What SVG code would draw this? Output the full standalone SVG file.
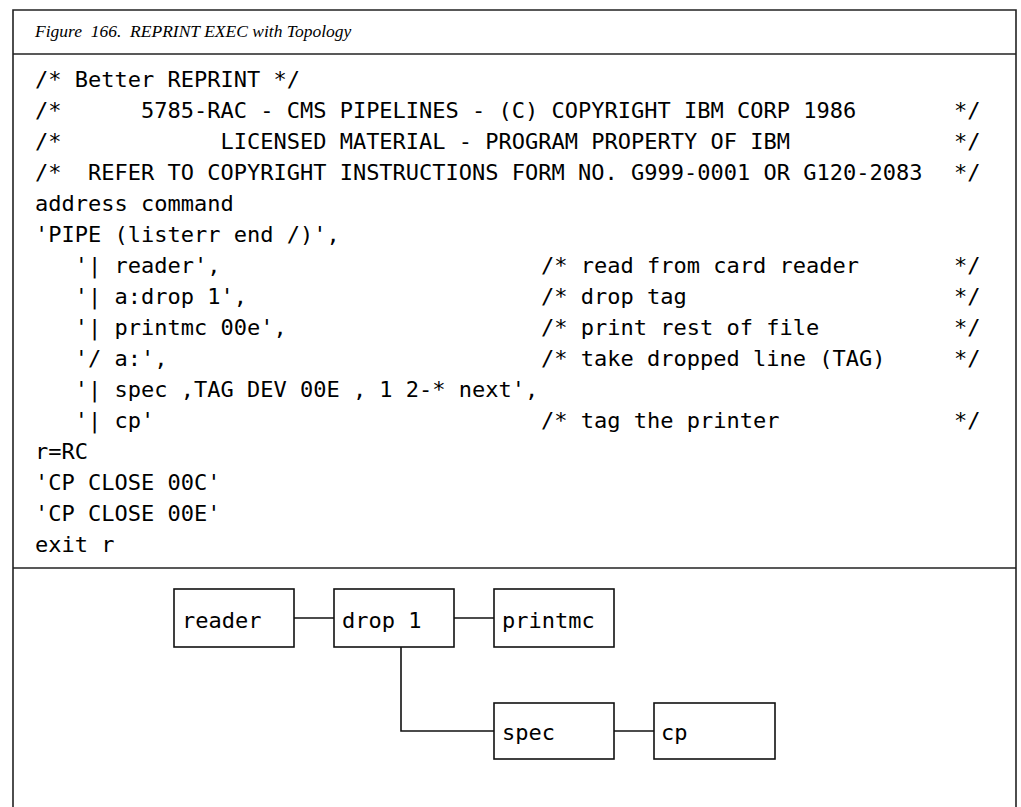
<svg xmlns="http://www.w3.org/2000/svg" width="1021" height="807" viewBox="0 0 1021 807">
<style>
.frame{fill:none;stroke:#222;stroke-width:1.6}
.code{font-family:"DejaVu Sans Mono","Liberation Mono",monospace;font-size:22px;fill:#000}
.title{font-family:"Liberation Serif","Times New Roman",serif;font-style:italic;font-size:17.5px;fill:#000}
.box{fill:#fff;stroke:#111;stroke-width:1.6}
.lbl{font-family:"DejaVu Sans Mono","Liberation Mono",monospace;font-size:22px;fill:#000}
.conn{fill:none;stroke:#111;stroke-width:1.6}
</style>
<rect width="1021" height="807" fill="#fff"/>
<g id="frame">
<path class="frame" d="M13,807 V10 H1016 V807"/>
<line class="frame" x1="13" y1="54" x2="1016" y2="54"/>
<line class="frame" x1="13" y1="568" x2="1016" y2="568"/>
</g>
<text class="title" x="35" y="37">Figure&#160; 166.&#160; REPRINT EXEC with Topology</text>
<g id="code" class="code">
<text x="35" y="87">/* Better REPRINT */</text>
<text x="35" y="118">/*&#160;&#160;&#160;&#160;&#160;&#160;5785-RAC - CMS PIPELINES - (C) COPYRIGHT IBM CORP 1986<tspan x="954">*/</tspan></text>
<text x="35" y="149">/*&#160;&#160;&#160;&#160;&#160;&#160;&#160;&#160;&#160;&#160;&#160;&#160;LICENSED MATERIAL - PROGRAM PROPERTY OF IBM<tspan x="954">*/</tspan></text>
<text x="35" y="180">/*&#160;&#160;REFER TO COPYRIGHT INSTRUCTIONS FORM NO. G999-0001 OR G120-2083<tspan x="954">*/</tspan></text>
<text x="35" y="211">address command</text>
<text x="35" y="242">'PIPE (listerr end /)',</text>
<text x="35" y="273">&#160;&#160;&#160;'| reader',<tspan x="541">/* read from card reader</tspan><tspan x="954">*/</tspan></text>
<text x="35" y="304">&#160;&#160;&#160;'| a:drop 1',<tspan x="541">/* drop tag</tspan><tspan x="954">*/</tspan></text>
<text x="35" y="335">&#160;&#160;&#160;'| printmc 00e',<tspan x="541">/* print rest of file</tspan><tspan x="954">*/</tspan></text>
<text x="35" y="366">&#160;&#160;&#160;'/ a:',<tspan x="541">/* take dropped line (TAG)</tspan><tspan x="954">*/</tspan></text>
<text x="35" y="397">&#160;&#160;&#160;'| spec ,TAG DEV 00E , 1 2-* next',</text>
<text x="35" y="428">&#160;&#160;&#160;'| cp'<tspan x="541">/* tag the printer</tspan><tspan x="954">*/</tspan></text>
<text x="35" y="459">r=RC</text>
<text x="35" y="490">'CP CLOSE 00C'</text>
<text x="35" y="521">'CP CLOSE 00E'</text>
<text x="35" y="552">exit r</text>
</g>
<g id="connectors">
<line class="conn" x1="294" y1="618" x2="334" y2="618"/>
<line class="conn" x1="454" y1="618" x2="494" y2="618"/>
<polyline class="conn" points="401,647 401,731 494,731"/>
<line class="conn" x1="614" y1="731" x2="654" y2="731"/>
</g>
<g id="node-reader">
<rect class="box" x="174" y="589" width="120" height="58"/>
<text class="lbl" x="182" y="628">reader</text>
</g>
<g id="node-drop1">
<rect class="box" x="334" y="589" width="120" height="58"/>
<text class="lbl" x="342" y="628">drop 1</text>
</g>
<g id="node-printmc">
<rect class="box" x="494" y="589" width="120" height="58"/>
<text class="lbl" x="502" y="628">printmc</text>
</g>
<g id="node-spec">
<rect class="box" x="494" y="703" width="120" height="56"/>
<text class="lbl" x="502" y="740">spec</text>
</g>
<g id="node-cp">
<rect class="box" x="654" y="703" width="121" height="56"/>
<text class="lbl" x="661" y="740">cp</text>
</g>
</svg>
